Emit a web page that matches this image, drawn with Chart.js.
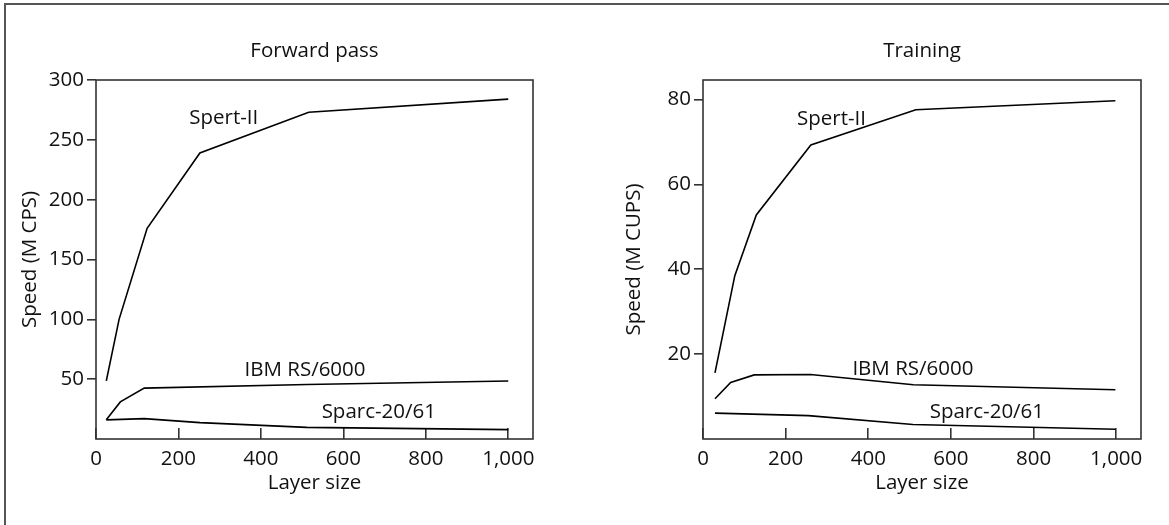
<!DOCTYPE html>
<html><head><meta charset="utf-8">
<script src="https://cdn.jsdelivr.net/npm/chart.js@4.4.0/dist/chart.umd.min.js"></script>
<style>
html,body{margin:0;padding:0;background:#fff;}
body{width:1169px;height:525px;position:relative;overflow:hidden;}
#frame{position:absolute;left:4px;top:3px;width:1200px;height:600px;border-left:2px solid #555;border-top:2px solid #555;}
#c1{position:absolute;left:0;top:0;}
#c2{position:absolute;left:584px;top:0;}
</style></head><body>
<div id="frame"></div>
<canvas id="c1" width="584" height="525"></canvas>
<canvas id="c2" width="585" height="525"></canvas>
<script>
// ---- data ----
const xTickValues = [0, 200, 400, 600, 800, 1000];
const fwdYTicks = [50, 100, 150, 200, 250, 300];
const trYTicks = [20, 40, 60, 80];

const fwdSpertX = [25, 56, 124, 252, 516, 1000];
const fwdSpertY = [48.5, 100, 176, 239, 273, 284];
const fwdIbmX = [25, 59, 117, 512, 1000];
const fwdIbmY = [16, 31, 42.5, 45.5, 48.5];
const fwdSparcX = [25, 117, 252, 511, 1000];
const fwdSparcY = [16, 17, 13.7, 9.7, 7.8];

const trSpertX = [29, 77, 129, 261, 515, 998];
const trSpertY = [15.6, 38.5, 52.8, 69.3, 77.6, 79.7];
const trIbmX = [29, 67, 124, 260, 509, 998];
const trIbmY = [9.5, 13.3, 15.1, 15.2, 12.8, 11.6];
const trSparcX = [29, 255, 508, 998];
const trSparcY = [6.1, 5.5, 3.4, 2.3];

const seriesNames = ['Spert-II', 'IBM RS/6000', 'Sparc-20/61'];
// label anchors in data units (text centre x, baseline y)
const fwdLabelX = [310, 507, 686];
const fwdLabelY = [263, 52.8, 17.5];
const trLabelX = [311, 508, 687];
const trLabelY = [73.9, 15.1, 4.9];

// ---- rendering ----
const FONT = "'Open Sans', sans-serif";
const FS = 20.5;
const TXT = '#111';
const toPts = (xs, ys) => xs.map((x, i) => ({x: x, y: ys[i]}));

const framePlugin = {
  id: 'frameAndLabels',
  afterDatasetsDraw(chart, args, opts) {
    const ctx = chart.ctx, a = chart.chartArea;
    ctx.save();
    ctx.strokeStyle = '#333';
    ctx.lineWidth = 1.6;
    ctx.strokeRect(a.left, a.top, a.right - a.left, a.bottom - a.top);
    ctx.fillStyle = TXT;
    ctx.font = FS + 'px ' + FONT;
    ctx.textAlign = 'center';
    // panel title, centred over the plot area
    ctx.textBaseline = 'middle';
    ctx.fillText(opts.title, (a.left + a.right) / 2, 51.5);
    ctx.textBaseline = 'alphabetic';
    const xs = chart.scales.x, ys = chart.scales.y;
    opts.names.forEach((t, i) => {
      ctx.fillText(t, xs.getPixelForValue(opts.lx[i]), ys.getPixelForValue(opts.ly[i]));
    });
    ctx.restore();
  }
};

function makeChart(id, c) {
  const ds = c.series.map(s => ({
    data: s, borderColor: '#000', borderWidth: 1.6, pointRadius: 0,
    tension: 0, fill: false
  }));
  return new Chart(document.getElementById(id), {
    type: 'line',
    data: {datasets: ds},
    plugins: [framePlugin],
    options: {
      responsive: false,
      animation: false,
      events: [],
      layout: {padding: {left: 0, right: c.padRight, top: 80, bottom: 0}},
      plugins: {
        legend: {display: false},
        tooltip: {enabled: false},
        title: {display: false},
        frameAndLabels: {title: c.title, names: seriesNames, lx: c.lx, ly: c.ly}
      },
      scales: {
        x: {
          type: 'linear', min: 0, max: 1060,
          afterBuildTicks: s => { s.ticks = xTickValues.map(v => ({value: v})); },
          afterFit: s => { s.height = 86; },
          ticks: {color: TXT, font: {family: FONT, size: FS}, padding: 19.1,
            maxRotation: 0, autoSkip: false,
            callback: v => Number(v).toLocaleString('en-US')},
          grid: {drawOnChartArea: false, drawTicks: true, tickLength: -11, color: '#333', lineWidth: 1.6},
          border: {display: false},
          title: {display: true, text: 'Layer size', color: TXT,
            font: {family: FONT, size: FS}, padding: {top: 0, bottom: 29.7}}
        },
        y: {
          type: 'linear', min: 0, max: c.yMax,
          afterBuildTicks: s => { s.ticks = c.yTicks.map(v => ({value: v})); },
          afterFit: s => { s.width = c.yWidth; },
          ticks: {color: TXT, font: {family: FONT, size: FS}, padding: 3},
          grid: {drawOnChartArea: false, drawTicks: true, tickLength: 9, color: '#333', lineWidth: 1.6},
          border: {display: false},
          title: {display: true, text: c.yTitle, color: TXT,
            font: {family: FONT, size: FS}, padding: {top: c.yTitlePad, bottom: 0}}
        }
      }
    }
  });
}

makeChart('c1', {
  title: 'Forward pass', yTitle: 'Speed (M CPS)', yMax: 300, yTicks: fwdYTicks,
  yWidth: 96, padRight: 51, yTitlePad: 17.7,
  series: [toPts(fwdSpertX, fwdSpertY), toPts(fwdIbmX, fwdIbmY), toPts(fwdSparcX, fwdSparcY)],
  lx: fwdLabelX, ly: fwdLabelY
});
makeChart('c2', {
  title: 'Training', yTitle: 'Speed (M CUPS)', yMax: 84.6, yTicks: trYTicks,
  yWidth: 119, padRight: 28, yTitlePad: 37.7,
  series: [toPts(trSpertX, trSpertY), toPts(trIbmX, trIbmY), toPts(trSparcX, trSparcY)],
  lx: trLabelX, ly: trLabelY
});
</script>
</body></html>
